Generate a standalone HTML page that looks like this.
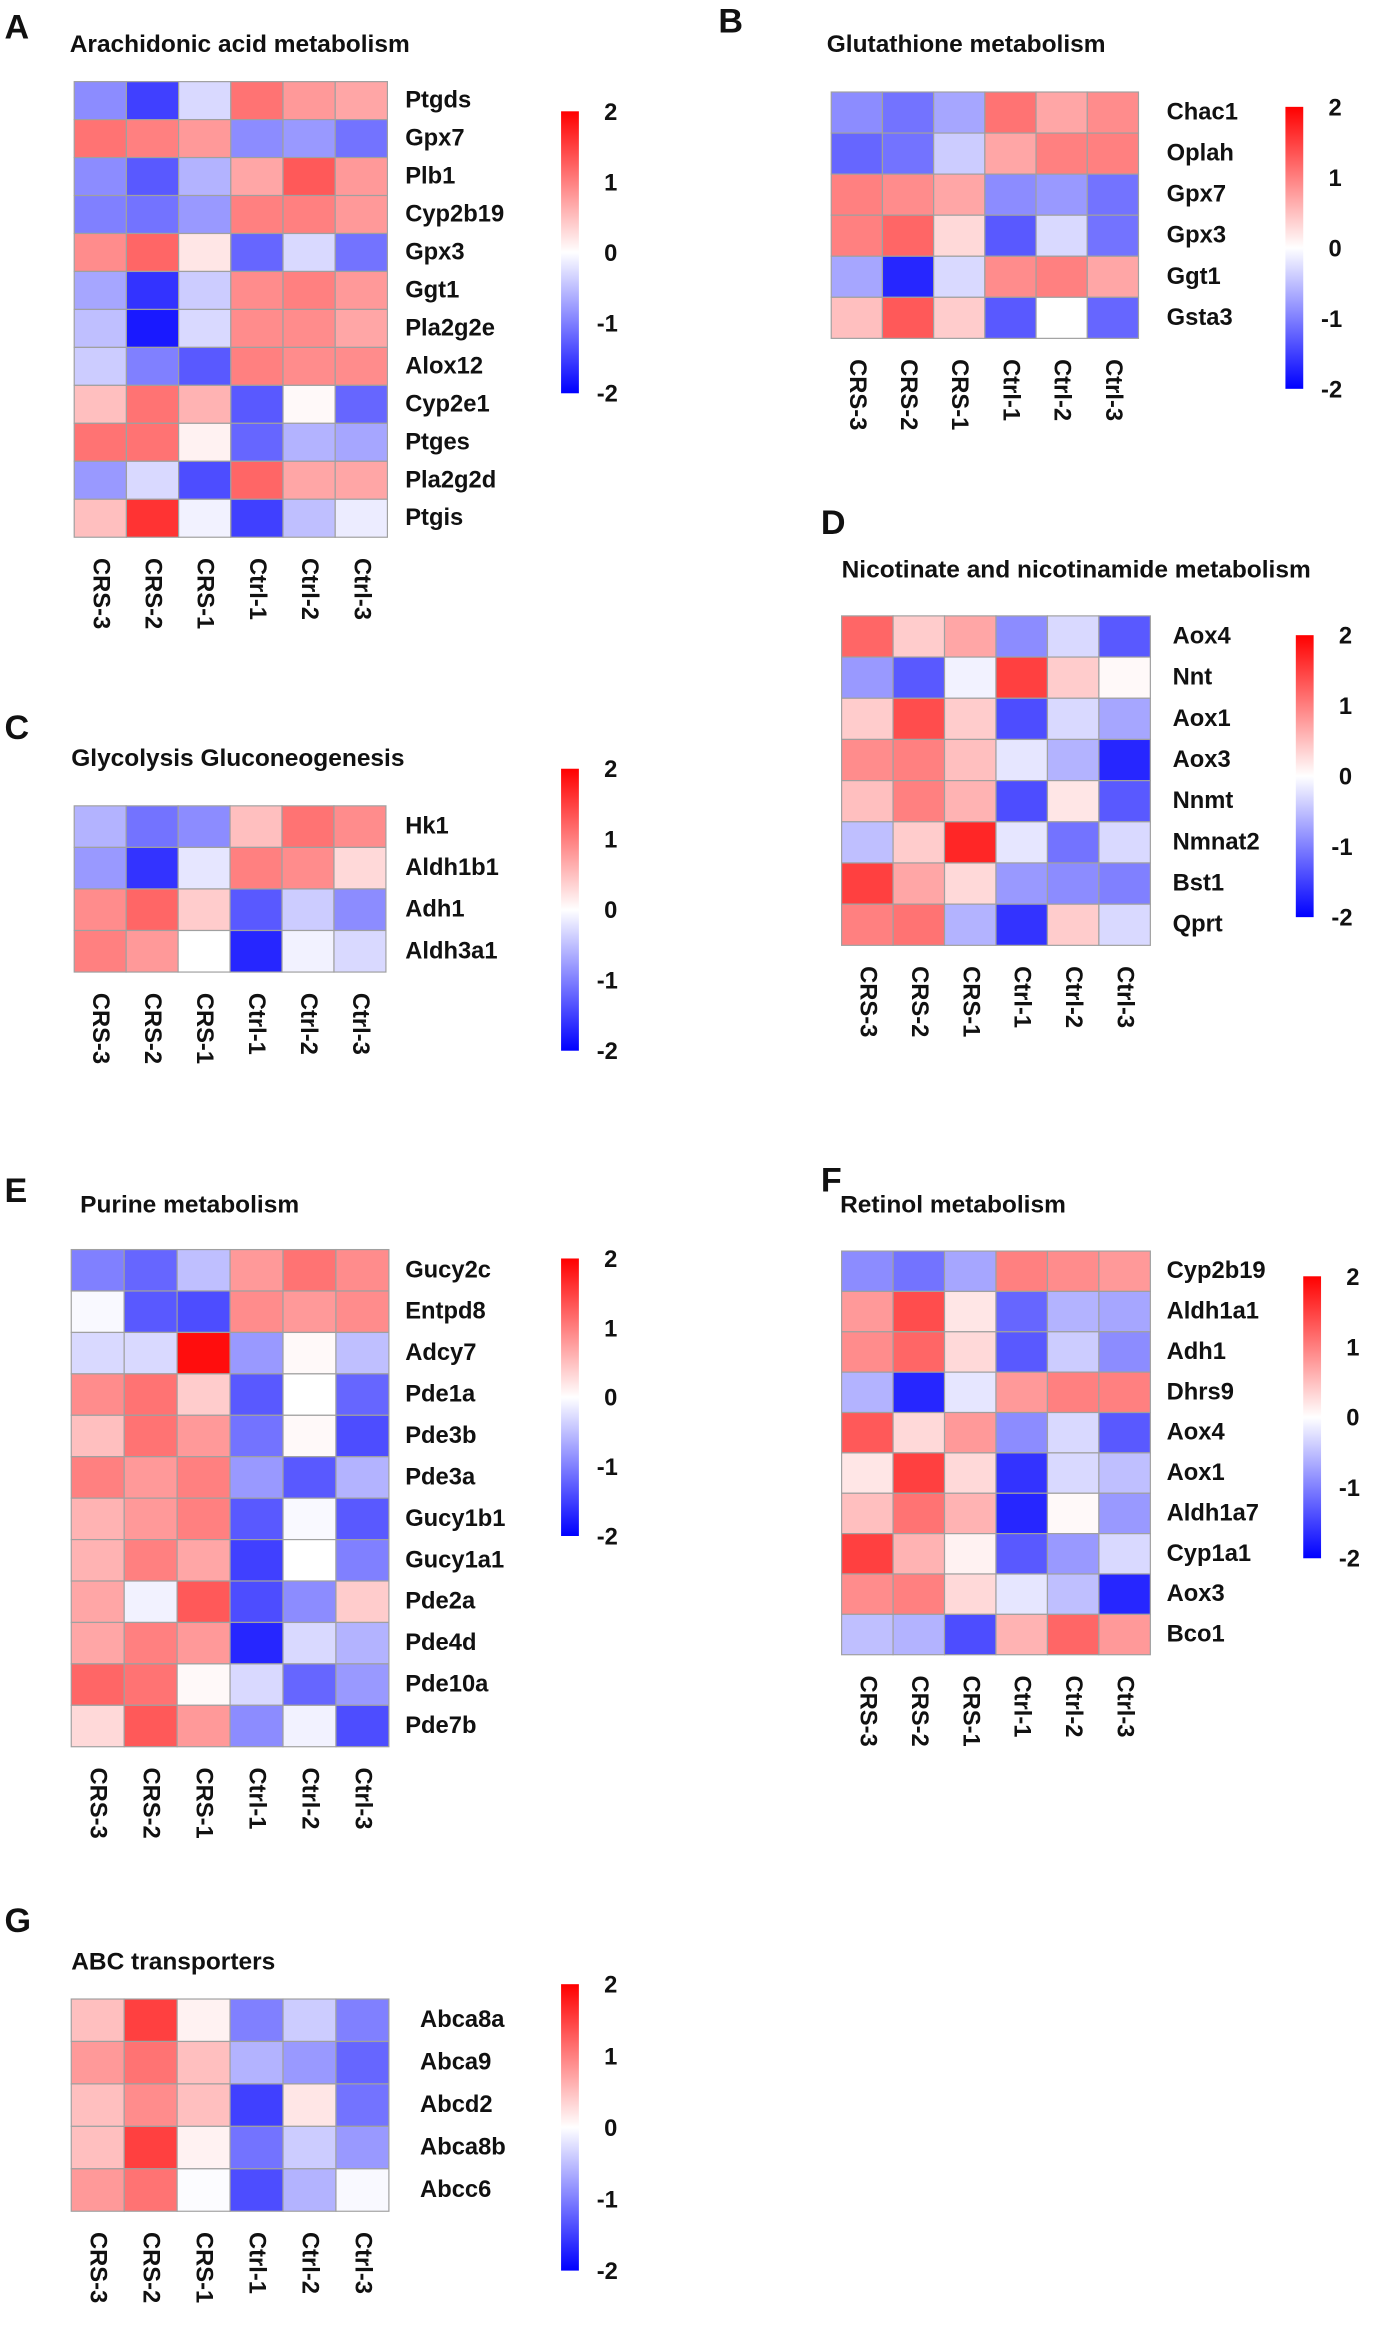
<!DOCTYPE html>
<html><head><meta charset="utf-8"><style>
html,body{margin:0;padding:0;background:#fff}
svg{display:block}
text{font-family:"Liberation Sans",Arial,sans-serif;font-weight:bold;fill:#111}
</style></head><body>
<svg id="fig" width="1373" height="2327" viewBox="0 0 925 1568" preserveAspectRatio="none" xmlns="http://www.w3.org/2000/svg"></svg>
<script>
const samples = ["CRS-3","CRS-2","CRS-1","Ctrl-1","Ctrl-2","Ctrl-3"];
const colorTicks = [2,1,0,-1,-2];

const genesA = ["Ptgds","Gpx7","Plb1","Cyp2b19","Gpx3","Ggt1","Pla2g2e","Alox12","Cyp2e1","Ptges","Pla2g2d","Ptgis"];
const valuesA = [
 [-0.9,-1.5,-0.3,1.1,0.8,0.7],[1.1,1.0,0.8,-0.9,-0.8,-1.1],[-0.9,-1.3,-0.6,0.7,1.3,0.8],
 [-1.0,-1.1,-0.8,1.0,1.0,0.8],[0.9,1.2,0.2,-1.2,-0.3,-1.1],[-0.7,-1.6,-0.4,0.9,1.0,0.8],
 [-0.5,-1.8,-0.3,0.9,0.9,0.7],[-0.4,-1.0,-1.3,1.0,0.9,0.9],[0.5,1.1,0.6,-1.3,0.05,-1.2],
 [1.1,1.1,0.1,-1.2,-0.6,-0.7],[-0.8,-0.3,-1.4,1.2,0.7,0.7],[0.5,1.6,-0.1,-1.5,-0.5,-0.15]];

const genesB = ["Chac1","Oplah","Gpx7","Gpx3","Ggt1","Gsta3"];
const valuesB = [
 [-0.9,-1.1,-0.7,1.1,0.7,0.9],[-1.2,-1.1,-0.4,0.7,1.0,1.0],[1.0,0.9,0.7,-0.9,-0.8,-1.1],
 [1.0,1.2,0.3,-1.3,-0.3,-1.1],[-0.7,-1.7,-0.3,0.9,1.0,0.7],[0.5,1.3,0.4,-1.3,0.0,-1.2]];

const genesC = ["Hk1","Aldh1b1","Adh1","Aldh3a1"];
const valuesC = [
 [-0.6,-1.1,-0.9,0.5,1.1,0.9],[-0.8,-1.6,-0.2,1.0,0.9,0.3],
 [0.9,1.2,0.4,-1.3,-0.4,-0.9],[1.0,0.8,0.0,-1.7,-0.1,-0.3]];

const genesD = ["Aox4","Nnt","Aox1","Aox3","Nnmt","Nmnat2","Bst1","Qprt"];
const valuesD = [
 [1.2,0.4,0.7,-0.9,-0.3,-1.3],[-0.8,-1.3,-0.1,1.5,0.4,0.05],[0.4,1.4,0.4,-1.4,-0.3,-0.7],
 [0.9,1.0,0.5,-0.2,-0.6,-1.7],[0.5,1.0,0.6,-1.4,0.2,-1.3],[-0.5,0.4,1.7,-0.2,-1.1,-0.3],
 [1.5,0.7,0.3,-0.8,-0.9,-1.0],[1.0,1.1,-0.6,-1.6,0.4,-0.3]];

const genesE = ["Gucy2c","Entpd8","Adcy7","Pde1a","Pde3b","Pde3a","Gucy1b1","Gucy1a1","Pde2a","Pde4d","Pde10a","Pde7b"];
const valuesE = [
 [-1.0,-1.2,-0.5,0.8,1.1,0.9],[-0.05,-1.3,-1.4,0.9,0.8,0.9],[-0.3,-0.3,1.9,-0.8,0.05,-0.5],
 [0.9,1.1,0.4,-1.3,0.0,-1.2],[0.5,1.1,0.8,-1.1,0.05,-1.4],[1.0,0.8,1.0,-0.8,-1.3,-0.6],
 [0.6,0.8,1.0,-1.3,-0.05,-1.3],[0.6,1.0,0.7,-1.5,0.0,-1.0],[0.7,-0.1,1.3,-1.4,-0.9,0.4],
 [0.7,1.0,0.8,-1.7,-0.3,-0.6],[1.2,1.1,0.05,-0.3,-1.2,-0.8],[0.3,1.3,0.8,-0.9,-0.1,-1.4]];

const genesF = ["Cyp2b19","Aldh1a1","Adh1","Dhrs9","Aox4","Aox1","Aldh1a7","Cyp1a1","Aox3","Bco1"];
const valuesF = [
 [-0.9,-1.1,-0.7,1.0,0.9,0.8],[0.8,1.4,0.2,-1.2,-0.6,-0.7],[0.9,1.2,0.3,-1.3,-0.4,-0.9],
 [-0.6,-1.7,-0.2,0.8,1.0,1.0],[1.3,0.3,0.8,-0.9,-0.3,-1.3],[0.2,1.5,0.3,-1.6,-0.3,-0.5],
 [0.5,1.1,0.6,-1.7,0.05,-0.8],[1.5,0.6,0.1,-1.3,-0.8,-0.3],[0.9,1.0,0.3,-0.2,-0.5,-1.7],
 [-0.5,-0.6,-1.4,0.6,1.2,0.8]];

const genesG = ["Abca8a","Abca9","Abcd2","Abca8b","Abcc6"];
const valuesG = [
 [0.5,1.5,0.1,-1.0,-0.4,-1.0],[0.8,1.1,0.5,-0.6,-0.8,-1.2],[0.5,0.9,0.5,-1.5,0.2,-1.1],
 [0.5,1.5,0.1,-1.1,-0.4,-0.8],[0.8,1.1,-0.02,-1.4,-0.6,-0.05]];

const NS="http://www.w3.org/2000/svg";
const svg=document.getElementById('fig');
function mk(tag,attrs,parent){const e=document.createElementNS(NS,tag);for(const k in attrs)e.setAttribute(k,attrs[k]);(parent||svg).appendChild(e);return e;}
function color(v){v=Math.max(-2,Math.min(2,v));const t=Math.abs(v)/2;const c=Math.round(255*(1-t));
 return v>=0?`rgb(255,${c},${c})`:`rgb(${c},${c},255)`;}
let gid=0;
function panel(p){
 const g=mk('g',{});
 
 
 const L=mk('text',{x:p.lx,y:p.ly,'font-size':23},g);L.textContent=p.letter;
 
 
 const T=mk('text',{x:p.tx,y:p.ty,'font-size':16.5},g);T.textContent=p.title;
 
 
 const nr=p.genes.length,nc=samples.length;
 const cw=(p.x1-p.x0)/nc,rh=(p.y1-p.y0)/nr;
 const xs=i=>p.x0+i*cw, ys=j=>p.y0+j*rh;
 for(let j=0;j<nr;j++){for(let i=0;i<nc;i++){
  const r=mk('rect',{x:xs(i),y:ys(j),width:cw,height:rh,fill:color(p.vals[j][i]),stroke:'#a0a0a0','stroke-width':0.8},g);
  
  
 }
  const t=mk('text',{x:p.gx,y:ys(j)+rh/2,'font-size':16,'dominant-baseline':'central'},g);t.textContent=p.genes[j];
  
  
 }
 for(let i=0;i<nc;i++){
  const cx=xs(i)+cw/2,cy=p.y1+14;
  const t=mk('text',{x:cx,y:cy,'font-size':16,'dominant-baseline':'central',transform:`rotate(90 ${cx} ${cy})`},g);t.textContent=samples[i];
  
  
 }
 const id='grad'+(gid++);
 const defs=mk('defs',{},g);const lg=mk('linearGradient',{id:id,x1:0,y1:0,x2:0,y2:1},defs);
 mk('stop',{offset:'0%','stop-color':'#ff0000'},lg);mk('stop',{offset:'50%','stop-color':'#ffffff'},lg);mk('stop',{offset:'100%','stop-color':'#0000ff'},lg);
 const cb=mk('rect',{x:p.cbx,y:p.cby0,width:12,height:p.cby1-p.cby0,fill:`url(#${id})`},g);
 
 
 const cy=v=>p.cby0+(2-v)/4*(p.cby1-p.cby0);
 colorTicks.forEach(v=>{
  const t=mk('text',{x:p.cbx+(v<0?24:29),y:cy(v)+1,'font-size':16,'dominant-baseline':'central'},g);t.textContent=String(v);
  
  
 });
}
panel({letter:'A',lx:3,ly:26,title:'Arachidonic acid metabolism',tx:47,ty:35,genes:genesA,vals:valuesA,x0:50,x1:261,y0:55,y1:362,gx:273,cbx:378,cby0:75,cby1:265});
panel({letter:'B',lx:484,ly:22,title:'Glutathione metabolism',tx:557,ty:35,genes:genesB,vals:valuesB,x0:560,x1:767,y0:62,y1:228,gx:786,cbx:866,cby0:72,cby1:262});
panel({letter:'C',lx:3,ly:498,title:'Glycolysis  Gluconeogenesis',tx:48,ty:516,genes:genesC,vals:valuesC,x0:50,x1:260,y0:543,y1:655,gx:273,cbx:378,cby0:518,cby1:708});
panel({letter:'D',lx:553,ly:360,title:'Nicotinate and nicotinamide metabolism',tx:567,ty:389,genes:genesD,vals:valuesD,x0:567,x1:775,y0:415,y1:637,gx:790,cbx:873,cby0:428,cby1:618});
panel({letter:'E',lx:3,ly:810,title:'Purine metabolism',tx:54,ty:817,genes:genesE,vals:valuesE,x0:48,x1:262,y0:842,y1:1177,gx:273,cbx:378,cby0:848,cby1:1035});
panel({letter:'F',lx:553,ly:803,title:'Retinol metabolism',tx:566,ty:817,genes:genesF,vals:valuesF,x0:567,x1:775,y0:843,y1:1115,gx:786,cbx:878,cby0:860,cby1:1050});
panel({letter:'G',lx:3,ly:1302,title:'ABC transporters',tx:48,ty:1327,genes:genesG,vals:valuesG,x0:48,x1:262,y0:1347,y1:1490,gx:283,cbx:378,cby0:1337,cby1:1530});
</script>
</body></html>
